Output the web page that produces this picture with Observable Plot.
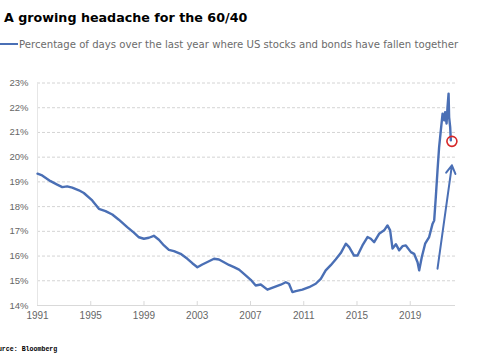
<!DOCTYPE html>
<html><head><meta charset="utf-8">
<script src="https://cdn.jsdelivr.net/npm/d3@7"></script>
<script src="https://cdn.jsdelivr.net/npm/@observablehq/plot@0.6"></script>
<style>
html,body{margin:0;padding:0;background:#fff;}
body{width:480px;height:358px;overflow:hidden;position:relative;}
#title{position:absolute;left:4px;top:10px;font:bold 12.7px "DejaVu Sans",sans-serif;color:#000;white-space:nowrap;}
#sub{position:absolute;left:0;top:37px;height:14px;display:flex;align-items:center;white-space:nowrap;}
#sub .sw{width:18px;height:2px;background:#4a6fb5;margin-right:1px;}
#sub .tx{font:10.15px "DejaVu Sans",sans-serif;color:#6b6b6b;}
#chart{position:absolute;left:0;top:60px;}
#src{position:absolute;left:-10px;top:346px;font:bold 6.6px "Liberation Mono",monospace;color:#000;white-space:nowrap;}
</style></head>
<body>
<div id="title">A growing headache for the 60/40</div>
<div id="sub"><div class="sw"></div><div class="tx">Percentage of days over the last year where US stocks and bonds have fallen together</div></div>
<div id="chart"></div>
<div id="src">Source: Bloomberg</div>
<script>
const years = [1991.0,1991.35,1991.98,1992.48,1992.86,1993.23,1993.61,1994.11,1994.48,1995.11,1995.61,1996.11,1996.62,1997.11,1997.74,1998.24,1998.62,1998.99,1999.37,1999.74,2000.12,2000.5,2000.87,2001.25,2001.75,2002.26,2002.63,2003.01,2003.38,2003.88,2004.26,2004.63,2005.01,2005.38,2005.76,2006.14,2006.51,2007.02,2007.39,2007.77,2008.27,2008.77,2009.27,2009.65,2009.89,2010.15,2010.4,2010.9,2011.4,2011.9,2012.28,2012.65,2013.03,2013.41,2013.78,2014.16,2014.41,2014.78,2015.04,2015.41,2015.79,2016.04,2016.29,2016.66,2017.04,2017.29,2017.49,2017.67,2017.92,2018.17,2018.42,2018.67,2019.05,2019.29,2019.55,2019.67,2019.87,2020.12,2020.42,2020.68,2020.8,2020.92,2021.05,2021.17,2021.3,2021.43,2021.55,2021.62,2021.73,2021.8,2021.88,2021.92,2022.0,2022.05];
const values = [19.33,19.26,19.03,18.89,18.79,18.82,18.77,18.66,18.55,18.25,17.91,17.82,17.68,17.47,17.17,16.95,16.76,16.7,16.74,16.82,16.66,16.43,16.25,16.2,16.09,15.89,15.71,15.55,15.66,15.79,15.89,15.86,15.75,15.64,15.55,15.45,15.28,15.04,14.81,14.85,14.64,14.74,14.84,14.94,14.88,14.54,14.58,14.64,14.74,14.88,15.08,15.42,15.63,15.87,16.12,16.5,16.36,16.02,16.02,16.43,16.77,16.7,16.56,16.9,17.04,17.24,17.04,16.3,16.48,16.23,16.4,16.43,16.16,16.09,15.75,15.42,15.96,16.5,16.77,17.31,17.44,18.38,19.47,20.41,21.09,21.76,21.49,21.82,21.36,22.03,22.57,21.62,21.22,20.68];
const xTicks = [1991,1995,1999,2003,2007,2011,2015,2019];
const yTicks = [14,15,16,17,18,19,20,21,22,23];
const arrowFrom = {year: 2021.05, value: 15.49};
const arrowTo = {year: 2022.13, value: 19.67};
const highlight = [{year: 2022.13, value: 20.64}];

const data = years.map((y, i) => ({year: y, value: values[i]}));
const blue = "#4a6fb5";
const fmtX = d => String(d);
const fmtY = d => d + "%";

const chart = Plot.plot({
  width: 480, height: 275,
  marginLeft: 37, marginRight: 25, marginTop: 22.5, marginBottom: 30,
  style: {fontFamily: "'Liberation Sans', sans-serif", fontSize: "10px", color: "#666", background: "#fff"},
  x: {domain: [1991, 2022.4], label: null},
  y: {domain: [14, 23], label: null},
  marks: [
    Plot.ruleY(yTicks.filter(d => d > 14), {stroke: "#d4d4d4", strokeDasharray: "3,2"}),
    Plot.ruleY([14], {stroke: "#d9d9d9"}),
    Plot.ruleX([1991], {stroke: "#e6e6e6"}),
    Plot.ruleX(xTicks.slice(1), {y1: 14, y2: 14.16, stroke: "#d9d9d9"}),
    Plot.axisX({ticks: xTicks, tickFormat: fmtX, tickSize: 0, tickPadding: 6, fontSize: 10, fill: "#666", label: null}),
    Plot.axisY({ticks: yTicks, tickFormat: fmtY, tickSize: 0, tickPadding: 9, fontSize: 9.5, fill: "#666", label: null}),
    Plot.line(data, {x: "year", y: "value", stroke: blue, strokeWidth: 2.4, strokeLinejoin: "round"}),
    Plot.arrow([arrowFrom], {x1: "year", y1: "value", x2: () => arrowTo.year, y2: () => arrowTo.value, stroke: blue, strokeWidth: 2, headLength: 7}),
    Plot.dot(highlight, {x: "year", y: "value", r: 5, stroke: "#d62728", strokeWidth: 1.6, fill: "none"})
  ]
});
document.getElementById("chart").appendChild(chart);
</script>
</body></html>
